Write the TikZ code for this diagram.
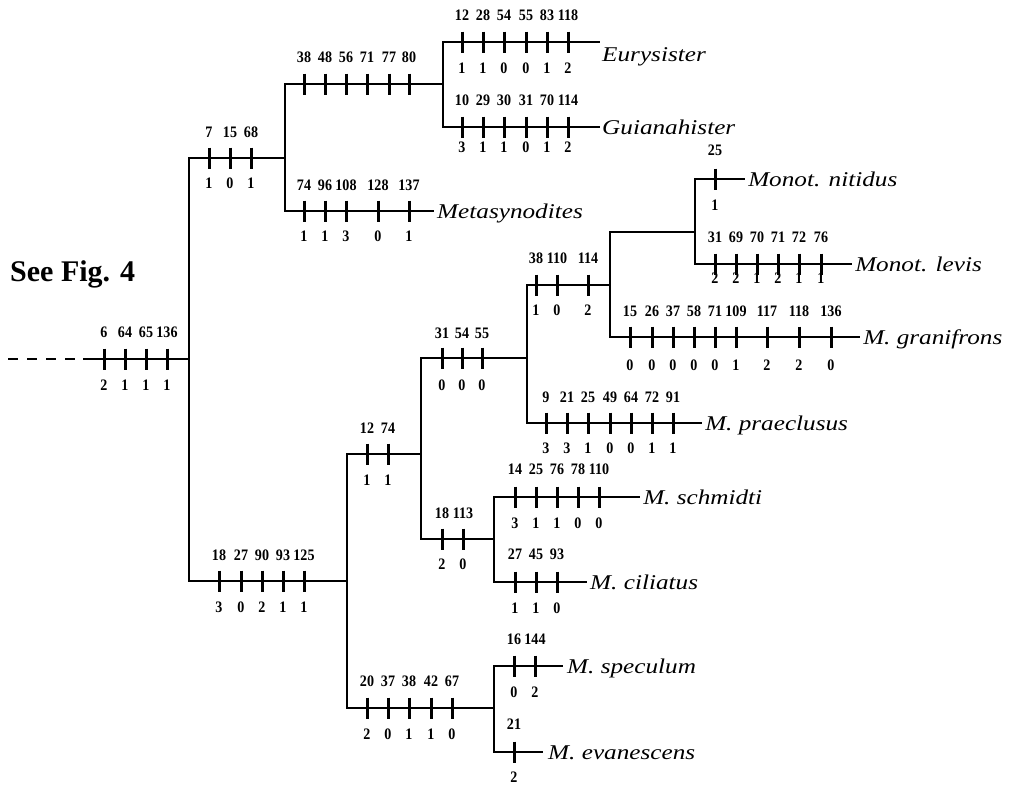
\documentclass[tikz,border=0pt]{standalone}
\usepackage{fontspec}
\setmainfont{Liberation Serif}
\tikzset{
  tree/.style={line width=1.8pt},
  tickmark/.style={line width=3pt},
  num/.style={font=\bfseries\fontsize{16}{16}\selectfont, inner sep=0pt, xscale=0.88},
  taxon/.style={font=\itshape\fontsize{21}{21}\selectfont, inner sep=0pt, anchor=base west, xscale=1.2},
}
% #1 = y of branch, #2 = offset of upper labels, #3 = offset of lower labels, #4 = list x/upper/lower
\newcommand\chars[4]{%
  \foreach \x/\a/\b in {#4} {
    \draw[tickmark] (\x,{#1-10.5}) -- (\x,{#1+10.5});
    \node[num] (u-#1-\x) at (\x,{#1-#2}) {\a};
    \node[num] (l-#1-\x) at (\x,{#1+#3}) {\b};
  }}
\begin{document}
\begin{tikzpicture}[x=1pt,y=-1pt]
\useasboundingbox (0,0) rectangle (1011,785);
% junctions
\coordinate (start) at (8,359);
\coordinate (dashend) at (83,359);
\coordinate (jR) at (189,359);
\coordinate (jA) at (285,158);
\coordinate (jB) at (443,84);
\coordinate (jL) at (347,581);
\coordinate (jC) at (421,454);
\coordinate (jD) at (527,358);
\coordinate (jE) at (610,285);
\coordinate (jF) at (695,232);
\coordinate (jG) at (494,539);
\coordinate (jH) at (494,708);
% leaf ends
\coordinate (eEury) at (600,42);
\coordinate (eGuia) at (600,127);
\coordinate (eMeta) at (434,211);
\coordinate (eNiti) at (745,179);
\coordinate (eLevi) at (852,264);
\coordinate (eGran) at (860,337);
\coordinate (ePrae) at (702,423);
\coordinate (eSchm) at (640,497);
\coordinate (eCili) at (587,582);
\coordinate (eSpec) at (563,666);
\coordinate (eEvan) at (543,752);
% root
\draw[tree, dash pattern=on 10pt off 9pt] (start) -- (dashend);
\draw[tree] (dashend) -- (jR);
% branches
\draw[tree] (jR) |- (jA);
\draw[tree] (jA) |- (jB);
\draw[tree] (jB) |- (eEury);
\draw[tree] (jB) |- (eGuia);
\draw[tree] (jA) |- (eMeta);
\draw[tree] (jR) |- (jL);
\draw[tree] (jL) |- (jC);
\draw[tree] (jC) |- (jD);
\draw[tree] (jD) |- (jE);
\draw[tree] (jE) |- (jF);
\draw[tree] (jF) |- (eNiti);
\draw[tree] (jF) |- (eLevi);
\draw[tree] (jE) |- (eGran);
\draw[tree] (jD) |- (ePrae);
\draw[tree] (jC) |- (jG);
\draw[tree] (jG) |- (eSchm);
\draw[tree] (jG) |- (eCili);
\draw[tree] (jL) |- (jH);
\draw[tree] (jH) |- (eSpec);
\draw[tree] (jH) |- (eEvan);
% character states
\chars{359}{27}{26}{104/6/2, 125/64/1, 146/65/1, 167/136/1}
\chars{158}{26}{25}{209/7/1, 230/15/0, 251/68/1}
\chars{84}{27}{25}{304/38/, 325/48/, 346/56/, 367/71/, 389/77/, 409/80/}
\chars{42}{27}{26}{462/12/1, 483/28/1, 504/54/0, 526/55/0, 547/83/1, 568/118/2}
\chars{127}{27}{20}{462/10/3, 483/29/1, 504/30/1, 526/31/0, 547/70/1, 568/114/2}
\chars{211}{26}{25}{304/74/1, 325/96/1, 346/108/3, 378/128/0, 409/137/1}
\chars{581}{26}{26}{219/18/3, 241/27/0, 262/90/2, 283/93/1, 304/125/1}
\chars{454}{26}{26}{367/12/1, 388/74/1}
\chars{358}{25}{27}{442/31/0, 462/54/0, 482/55/0}
\chars{285}{27}{25}{536/38/1, 557/110/0, 588/114/2}
\chars{179}{29}{26}{715/25/1}
\chars{264}{27}{14}{715/31/2, 736/69/2, 757/70/1, 778/71/2, 799/72/1, 821/76/1}
\chars{337}{26}{28}{630/15/0, 652/26/0, 673/37/0, 694/58/0, 715/71/0, 736/109/1, 767/117/2, 799/118/2, 831/136/0}
\chars{423}{26}{25}{546/9/3, 567/21/3, 588/25/1, 610/49/0, 631/64/0, 652/72/1, 673/91/1}
\chars{539}{26}{25}{442/18/2, 463/113/0}
\chars{497}{28}{26}{515/14/3, 536/25/1, 557/76/1, 578/78/0, 599/110/0}
\chars{582}{28}{26}{515/27/1, 536/45/1, 557/93/0}
\chars{708}{27}{26}{367/20/2, 388/37/0, 409/38/1, 431/42/1, 452/67/0}
\chars{666}{27}{26}{514/16/0, 535/144/2}
\chars{752}{28}{25}{514/21/2}
% taxa
\node[taxon] (tEury) at (602,61) {Eurysister};
\node[taxon] (tGuia) at (602,134) {Guianahister};
\node[taxon] (tMeta) at (437,218) {Metasynodites};
\node[taxon] (tNiti) at (748,186) {Monot. nitidus};
\node[taxon] (tLevi) at (855,271) {Monot. levis};
\node[taxon] (tGran) at (863,344) {M. granifrons};
\node[taxon] (tPrae) at (705,430) {M. praeclusus};
\node[taxon] (tSchm) at (643,504) {M. schmidti};
\node[taxon] (tCili) at (590,589) {M. ciliatus};
\node[taxon] (tSpec) at (567,673) {M. speculum};
\node[taxon] (tEvan) at (548,759) {M. evanescens};
% note
\node[font=\bfseries\fontsize{30}{30}\selectfont, inner sep=0pt, anchor=base west] (see) at (10,281) {See Fig. 4};
\end{tikzpicture}
\end{document}
